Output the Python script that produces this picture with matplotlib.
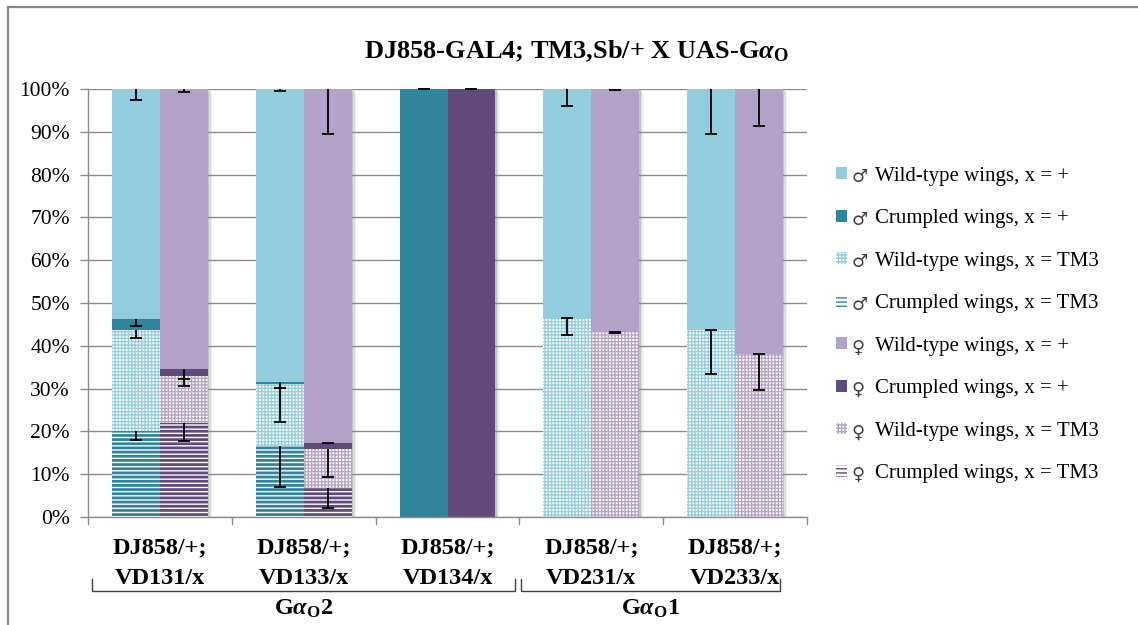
import matplotlib
matplotlib.use("Agg")
import matplotlib.pyplot as plt
from matplotlib.lines import Line2D
import matplotlib.transforms as mtransforms
import numpy as np

plt.rcParams['font.family'] = ['Liberation Serif', 'DejaVu Serif']
plt.rcParams['mathtext.fontset'] = 'custom'
plt.rcParams['mathtext.rm'] = 'Liberation Serif:bold'
plt.rcParams['mathtext.it'] = 'Liberation Serif:bold:italic'
plt.rcParams['mathtext.bf'] = 'Liberation Serif:bold'

# ---- data -------------------------------------------------------------
categories = ["DJ858/+;\nVD131/x", "DJ858/+;\nVD133/x", "DJ858/+;\nVD134/x",
              "DJ858/+;\nVD231/x", "DJ858/+;\nVD233/x"]
group_labels = ["G$\\alpha_{\\mathbf{O}}$2", "G$\\alpha_{\\mathbf{O}}$1"]
title = "DJ858-GAL4; TM3,Sb/+ X UAS-G$\\alpha_{\\mathbf{O}}$"
y_ticks = [0, 10, 20, 30, 40, 50, 60, 70, 80, 90, 100]

# percentages, stacked from the bottom: crumpled TM3, wild-type TM3, crumpled +, wild-type +
male_crumpled_tm3 = [20.1, 16.7, 0, 0, 0]
male_wild_tm3 = [23.6, 14.4, 0, 46.4, 43.7]
male_crumpled_plus = [2.6, 0.4, 100, 0, 0]
male_wild_plus = [53.7, 68.5, 0, 53.6, 56.3]

female_crumpled_tm3 = [22.0, 6.7, 0, 0, 0]
female_wild_tm3 = [11.0, 9.2, 0, 43.2, 38.0]
female_crumpled_plus = [1.5, 1.5, 100, 0, 0]
female_wild_plus = [65.5, 82.6, 0, 56.8, 62.0]

# error (drawn downward from the top of each segment)
male_err_crumpled_tm3 = [2.2, 9.8, 0, 0, 0]
male_err_wild_tm3 = [1.8, 8.8, 0, 3.9, 10.3]
male_err_crumpled_plus = [1.6, 1.4, 0, 0, 0]
male_err_wild_plus = [2.6, 0.4, 0, 3.9, 10.5]

female_err_crumpled_tm3 = [4.2, 4.7, 0, 0, 0]
female_err_wild_tm3 = [2.4, 6.5, 0, 0.3, 8.3]
female_err_crumpled_plus = [2.3, 0, 0, 0, 0]
female_err_wild_plus = [0.8, 10.4, 0, 0.3, 8.6]

# ---- styling ----------------------------------------------------------
LIGHT_TEAL, DARK_TEAL = "#93CDDD", "#31849B"
LIGHT_PURPLE, DARK_PURPLE = "#B3A2C7", "#604A7B"
GRID_GRAY = "#8C8C8C"

W, H, DPI = 1138, 625, 100
fig = plt.figure(figsize=(W / DPI, H / DPI), dpi=DPI)
ax = fig.add_axes([88 / W, 1 - 517 / H, (807 - 88) / W, (517 - 89) / H])

x = np.arange(len(categories))
bw = 1 / 3


def seg_style(kind, light, dark):
    if kind == "wild_plus":
        return dict(color=light, linewidth=0)
    if kind == "crumpled_plus":
        return dict(color=dark, linewidth=0)
    if kind == "wild_tm3":
        return dict(facecolor="white", edgecolor=light, linewidth=0, hatch="+++++")
    return dict(facecolor="white", edgecolor=dark, linewidth=0, hatch="----")


sexes = [
    ("\u2642", -bw / 2, LIGHT_TEAL, DARK_TEAL,
     [("crumpled_tm3", male_crumpled_tm3, male_err_crumpled_tm3),
      ("wild_tm3", male_wild_tm3, male_err_wild_tm3),
      ("crumpled_plus", male_crumpled_plus, male_err_crumpled_plus),
      ("wild_plus", male_wild_plus, male_err_wild_plus)]),
    ("\u2640", bw / 2, LIGHT_PURPLE, DARK_PURPLE,
     [("crumpled_tm3", female_crumpled_tm3, female_err_crumpled_tm3),
      ("wild_tm3", female_wild_tm3, female_err_wild_tm3),
      ("crumpled_plus", female_crumpled_plus, female_err_crumpled_plus),
      ("wild_plus", female_wild_plus, female_err_wild_plus)]),
]

seg_names = {
    "wild_plus": "Wild-type wings, x = +",
    "crumpled_plus": "Crumpled wings, x = +",
    "wild_tm3": "Wild-type wings, x = TM3",
    "crumpled_tm3": "Crumpled wings, x = TM3",
}

# soft drop shadow behind each pair of stacked bars
pair_total = np.zeros(len(categories))
for _, vals, _ in sexes[0][4]:
    pair_total = pair_total + np.asarray(vals, float)
for dx, alpha in [(0.030, 0.10), (0.020, 0.18), (0.010, 0.25)]:
    ax.bar(x + dx, pair_total, 2 * bw, bottom=-dx * 25, color="#7f7f7f",
           alpha=alpha, linewidth=0, zorder=1.5)

legend_handles, legend_labels, legend_symbols = [], [], []
for symbol, offset, light, dark, segments in sexes:
    bottom = np.zeros(len(categories))
    handles = {}
    tops, errs = [], []
    for kind, vals, err in segments:
        vals = np.asarray(vals, float)
        lw_hatch = 2.0 if kind == "crumpled_tm3" else 0.9
        with plt.rc_context({"hatch.linewidth": lw_hatch}):
            bars = ax.bar(x + offset, vals, bw, bottom=bottom, zorder=2,
                          **seg_style(kind, light, dark))
        handles[kind] = bars
        bottom = bottom + vals
        tops.append(bottom.copy())
        errs.append(np.asarray(err, float))
    # error bars: line from segment top down by the error, cap at the end
    for top, err in zip(tops, errs):
        for xi, t, e in zip(x + offset, top, err):
            if t <= 0:
                continue
            ax.plot([xi, xi], [t, t - e], color="black", lw=1.3, zorder=5,
                    solid_capstyle="butt", clip_on=False)
            ax.plot([xi], [t - e], marker="_", markersize=8, mew=1.3,
                    color="black", zorder=5, clip_on=False)
    for kind in ["wild_plus", "crumpled_plus", "wild_tm3", "crumpled_tm3"]:
        legend_handles.append(handles[kind])
        legend_labels.append(seg_names[kind])
        legend_symbols.append(symbol)

# ---- axes -------------------------------------------------------------
ax.set_xlim(-0.5, len(categories) - 0.5)
ax.set_ylim(0, 100)
ax.set_yticks(y_ticks)
ax.set_yticklabels([f"{v}%" for v in y_ticks], fontsize=15.5)
ax.yaxis.grid(True, color=GRID_GRAY, lw=1.0)
ax.set_axisbelow(True)
ax.tick_params(axis="y", length=6, color=GRID_GRAY, width=1.0, pad=7)
ax.set_xticks(x)
ax.set_xticklabels(categories, fontsize=17.5, fontweight="bold", linespacing=1.55)
ax.tick_params(axis="x", length=0, pad=15)
ax.set_xticks(np.arange(-0.5, len(categories)), minor=True)
ax.tick_params(axis="x", which="minor", length=6, color=GRID_GRAY, width=1.0)
for s in ["top", "right"]:
    ax.spines[s].set_visible(False)
for s in ["left", "bottom"]:
    ax.spines[s].set_color(GRID_GRAY)
    ax.spines[s].set_linewidth(1.0)

# group brackets below the category labels
trans = mtransforms.blended_transform_factory(ax.transData, ax.transAxes)
y_hi, y_lo = -0.145, -0.173
for (x0, x1), lab in zip([(-0.472, 2.47), (2.51, 4.31)], group_labels):
    ax.plot([x0, x0, x1, x1], [y_hi, y_lo, y_lo, y_hi], color="#404040",
            lw=1.0, transform=trans, clip_on=False)
    ax.text((x0 + x1) / 2, -0.214, lab, transform=trans, ha="center",
            va="center", fontsize=17.5, fontweight="bold")

fig.text(576 / W, 1 - 51 / H, title, ha="center", va="center",
         fontsize=19, fontweight="bold")

leg = fig.legend(legend_handles, legend_labels, loc="center left",
                 bbox_to_anchor=(828 / W, 1 - 325 / H), frameon=False,
                 fontsize=15, handlelength=0.5, handleheight=0.5,
                 handletextpad=1.35, labelspacing=1.13, borderaxespad=0)

# male / female signs between each legend key and its label
fig.canvas.draw()
for txt, sym in zip(leg.get_texts(), legend_symbols):
    bb = txt.get_window_extent()
    fig.text(bb.x0 - 23, (bb.y0 + bb.y1) / 2 - 1, sym, transform=None,
             ha="left", va="center", fontsize=13, color="#404040",
             family=["DejaVu Sans"])

# outer chart frame
fig.add_artist(Line2D([8 / W, 8 / W], [0, 1 - 7 / H], color="#878787", lw=1.6,
                      transform=fig.transFigure))
fig.add_artist(Line2D([8 / W, 1], [1 - 7 / H, 1 - 7 / H], color="#878787",
                      lw=1.6, transform=fig.transFigure))

fig.savefig("out.png", dpi=DPI)
